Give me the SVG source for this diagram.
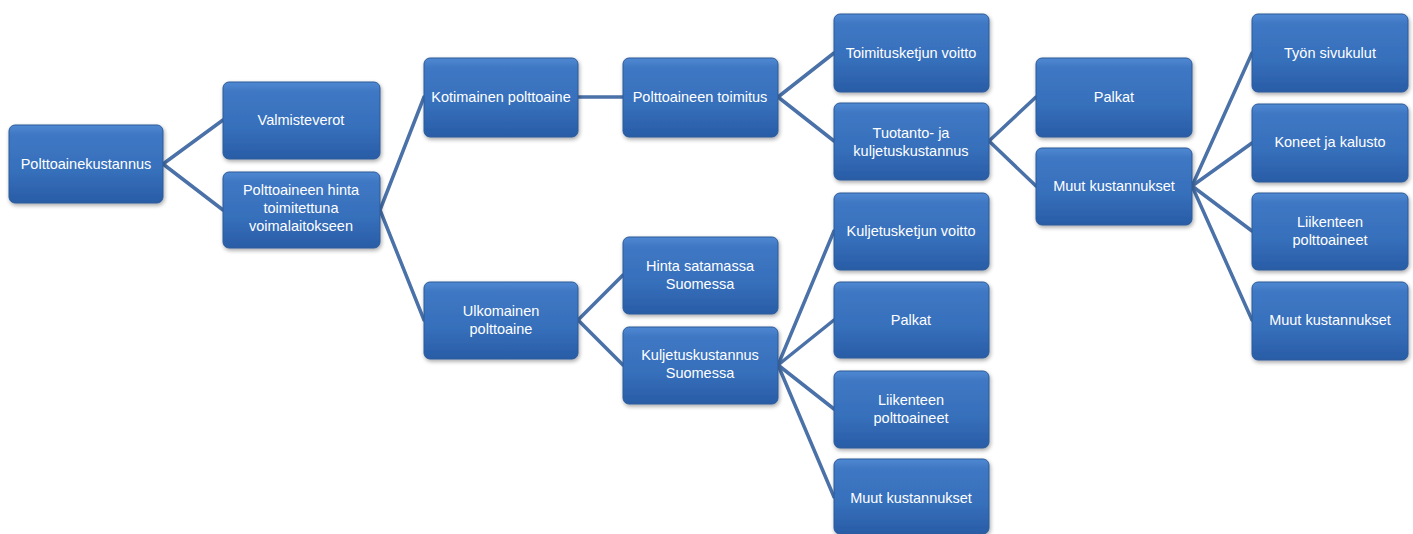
<svg xmlns="http://www.w3.org/2000/svg" width="1413" height="534" viewBox="0 0 1413 534">
<defs>
<linearGradient id="g" x1="0" y1="0" x2="0" y2="1">
<stop offset="0" stop-color="#5189d2"/>
<stop offset="0.12" stop-color="#3f78c4"/>
<stop offset="0.6" stop-color="#366fbb"/>
<stop offset="1" stop-color="#295ca6"/>
</linearGradient>
<filter id="sh" x="-10%" y="-10%" width="125%" height="130%">
<feGaussianBlur in="SourceAlpha" stdDeviation="2"/>
<feOffset dx="1" dy="2"/>
<feComponentTransfer><feFuncA type="linear" slope="0.35"/></feComponentTransfer>
<feMerge><feMergeNode/><feMergeNode in="SourceGraphic"/></feMerge>
</filter>
</defs>
<style>
.n rect{fill:url(#g);stroke:#2b5a98;stroke-width:1;filter:url(#sh)}
.n text{fill:#ffffff;font-family:"Liberation Sans",Arial,sans-serif;font-size:14.5px;text-anchor:middle}
.c line{stroke:#4a71a8;stroke-width:3.5;stroke-linecap:round}
</style>
<rect width="1413" height="534" fill="#ffffff"/>
<g class="c" id="connectors">
<line x1="163" y1="164" x2="223" y2="120"/>
<line x1="163" y1="164" x2="223" y2="210"/>
<line x1="380" y1="210" x2="424" y2="97"/>
<line x1="380" y1="210" x2="424" y2="320"/>
<line x1="578" y1="97" x2="623" y2="97"/>
<line x1="778" y1="97" x2="834" y2="53"/>
<line x1="778" y1="97" x2="834" y2="141"/>
<line x1="989" y1="141" x2="1036" y2="97"/>
<line x1="989" y1="141" x2="1036" y2="186"/>
<line x1="1192" y1="186" x2="1252" y2="53"/>
<line x1="1192" y1="186" x2="1252" y2="143"/>
<line x1="1192" y1="186" x2="1252" y2="231"/>
<line x1="1192" y1="186" x2="1252" y2="320"/>
<line x1="578" y1="320" x2="623" y2="275"/>
<line x1="578" y1="320" x2="623" y2="365"/>
<line x1="778" y1="365" x2="834" y2="231"/>
<line x1="778" y1="365" x2="834" y2="320"/>
<line x1="778" y1="365" x2="834" y2="409"/>
<line x1="778" y1="365" x2="834" y2="497"/>
</g>
<g class="n" id="n-polttoainekustannus"><rect x="9" y="125" width="154" height="78" rx="6"/><text x="86" y="169">Polttoainekustannus</text></g>
<g class="n" id="n-valmisteverot"><rect x="223" y="82" width="157" height="77" rx="6"/><text x="301" y="125">Valmisteverot</text></g>
<g class="n" id="n-hinta-toimitettuna"><rect x="223" y="172" width="157" height="76" rx="6"/><text x="301" y="195">Polttoaineen hinta</text><text x="301" y="213">toimitettuna</text><text x="301" y="231">voimalaitokseen</text></g>
<g class="n" id="n-kotimainen"><rect x="424" y="58" width="154" height="79" rx="6"/><text x="501" y="102">Kotimainen polttoaine</text></g>
<g class="n" id="n-toimitus"><rect x="623" y="58" width="155" height="79" rx="6"/><text x="700" y="102">Polttoaineen toimitus</text></g>
<g class="n" id="n-toimitusketjun-voitto"><rect x="834" y="14" width="155" height="78" rx="6"/><text x="911" y="58">Toimitusketjun voitto</text></g>
<g class="n" id="n-tuotanto"><rect x="834" y="103" width="155" height="77" rx="6"/><text x="911" y="138">Tuotanto- ja</text><text x="911" y="156">kuljetuskustannus</text></g>
<g class="n" id="n-palkat1"><rect x="1036" y="58" width="156" height="79" rx="6"/><text x="1114" y="102">Palkat</text></g>
<g class="n" id="n-muut1"><rect x="1036" y="148" width="156" height="77" rx="6"/><text x="1114" y="191">Muut kustannukset</text></g>
<g class="n" id="n-tyon-sivukulut"><rect x="1252" y="14" width="156" height="78" rx="6"/><text x="1330" y="58">Työn sivukulut</text></g>
<g class="n" id="n-koneet"><rect x="1252" y="104" width="156" height="78" rx="6"/><text x="1330" y="147">Koneet ja kalusto</text></g>
<g class="n" id="n-liikenteen1"><rect x="1252" y="193" width="156" height="77" rx="6"/><text x="1330" y="227">Liikenteen</text><text x="1330" y="245">polttoaineet</text></g>
<g class="n" id="n-muut2"><rect x="1252" y="282" width="156" height="78" rx="6"/><text x="1330" y="325">Muut kustannukset</text></g>
<g class="n" id="n-ulkomainen"><rect x="424" y="282" width="154" height="77" rx="6"/><text x="501" y="316">Ulkomainen</text><text x="501" y="334">polttoaine</text></g>
<g class="n" id="n-hinta-satamassa"><rect x="623" y="237" width="155" height="77" rx="6"/><text x="700" y="271">Hinta satamassa</text><text x="700" y="289">Suomessa</text></g>
<g class="n" id="n-kuljetuskustannus"><rect x="623" y="327" width="155" height="77" rx="6"/><text x="700" y="360">Kuljetuskustannus</text><text x="700" y="378">Suomessa</text></g>
<g class="n" id="n-kuljetusketjun-voitto"><rect x="834" y="193" width="155" height="77" rx="6"/><text x="911" y="236">Kuljetusketjun voitto</text></g>
<g class="n" id="n-palkat2"><rect x="834" y="282" width="155" height="76" rx="6"/><text x="911" y="325">Palkat</text></g>
<g class="n" id="n-liikenteen2"><rect x="834" y="371" width="155" height="77" rx="6"/><text x="911" y="405">Liikenteen</text><text x="911" y="423">polttoaineet</text></g>
<g class="n" id="n-muut3"><rect x="834" y="459" width="155" height="75" rx="6"/><text x="911" y="503">Muut kustannukset</text></g>
</svg>
